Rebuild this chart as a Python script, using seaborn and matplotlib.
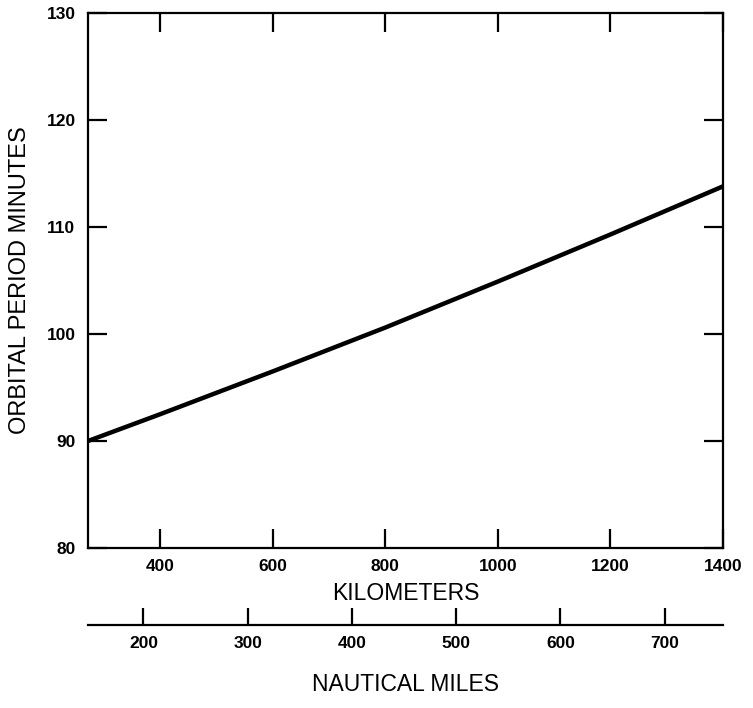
import matplotlib
matplotlib.use("Agg")
import matplotlib.pyplot as plt
import seaborn as sns
import pandas as pd

# Orbital period versus circular orbit altitude
altitude_km = [272, 400, 600, 800, 1000, 1200, 1400]
period_min = [90.0, 92.5, 96.5, 100.6, 104.9, 109.3, 113.8]

km_ticks = [400, 600, 800, 1000, 1200, 1400]
period_ticks = [80, 90, 100, 110, 120, 130]
nmi_ticks = [200, 300, 400, 500, 600, 700]

KM_PER_NMI = 1.852

sns.set_theme(style="ticks")
plt.rcParams["font.family"] = ["Liberation Sans", "DejaVu Sans"]

df = pd.DataFrame({"altitude": altitude_km, "period": period_min})

fig = plt.figure(figsize=(7.53, 7.08), dpi=100)
ax = fig.add_axes([88 / 753, 1 - 548 / 708, (723 - 88) / 753, (548 - 13) / 708])

sns.lineplot(data=df, x="altitude", y="period", color="black",
             linewidth=3.2, ax=ax, legend=False)

ax.set_xlim(272, 1400)
ax.set_ylim(80, 130)
ax.set_xticks(km_ticks)
ax.set_yticks(period_ticks)

for side in ["left", "right", "top", "bottom"]:
    ax.spines[side].set_visible(True)
    ax.spines[side].set_color("black")
    ax.spines[side].set_linewidth(1.6)

ax.tick_params(axis="both", which="major", direction="in", length=14,
               width=1.6, color="black", labelcolor="black")
ax.tick_params(axis="x", top=True, labeltop=False, bottom=True, pad=8)
ax.tick_params(axis="y", right=True, labelright=False, left=True, pad=9)
for lbl in ax.get_xticklabels() + ax.get_yticklabels():
    lbl.set_fontsize(12.5)
    lbl.set_fontweight("bold")

ax.set_xlabel("KILOMETERS", fontsize=16.5, color="black")
ax.xaxis.label.set_va("center")
ax.xaxis.set_label_coords(0.5, -(593 - 548) / 535)

ax.set_ylabel("ORBITAL PERIOD MINUTES", fontsize=17, color="black")
ax.yaxis.label.set_va("center")
ax.yaxis.set_label_coords(-(88 - 20) / 635, 0.5)

# Nautical-mile scale drawn as a detached secondary axis below the plot
sec = ax.secondary_xaxis(-(625 - 548) / 535,
                         functions=(lambda k: k / KM_PER_NMI,
                                    lambda n: n * KM_PER_NMI))
sec.set_xticks(nmi_ticks)
sec.spines["bottom"].set_linewidth(1.6)
sec.spines["bottom"].set_color("black")
sec.tick_params(axis="x", direction="in", length=12, width=1.6,
                color="black", labelcolor="black", pad=8)
for lbl in sec.get_xticklabels():
    lbl.set_fontsize(12.5)
    lbl.set_fontweight("bold")
sec.set_xlabel("NAUTICAL MILES", fontsize=16.5, color="black", labelpad=16)

fig.savefig("out.png", dpi=100, facecolor="white")
